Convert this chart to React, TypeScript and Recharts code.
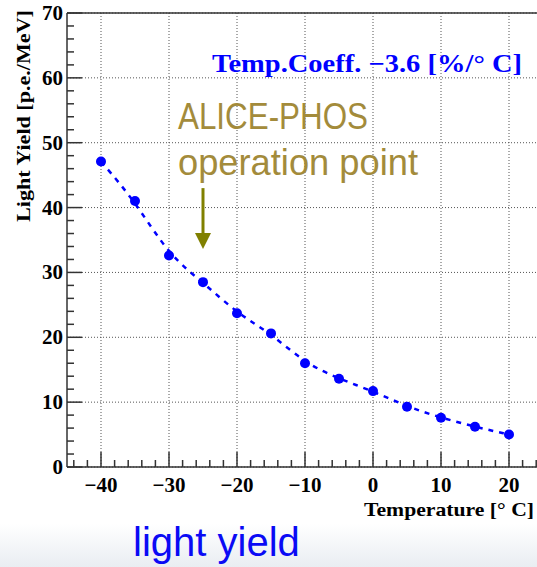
import {
  CartesianGrid,
  Line,
  LineChart,
  ReferenceDot,
  ReferenceLine,
  XAxis,
  YAxis,
} from "recharts";

const temperature = [-40, -35, -30, -25, -20, -15, -10, -5, 0, 5, 10, 15, 20];
const lightYield = [47.1, 41.0, 32.6, 28.5, 23.7, 20.6, 16.0, 13.6, 11.7, 9.3, 7.6, 6.2, 5.0];

const xTicks = [
  -44, -42, -40, -38, -36, -34, -32, -30, -28, -26, -24, -22, -20, -18, -16, -14, -12, -10,
  -8, -6, -4, -2, 0, 2, 4, 6, 8, 10, 12, 14, 16, 18, 20, 22, 24,
];
const xMajorTicks = [-40, -30, -20, -10, 0, 10, 20];
const yTicks = [
  0, 2, 4, 6, 8, 10, 12, 14, 16, 18, 20, 22, 24, 26, 28, 30, 32, 34, 36, 38, 40, 42, 44, 46,
  48, 50, 52, 54, 56, 58, 60, 62, 64, 66, 68, 70,
];
const yMajorTicks = [0, 10, 20, 30, 40, 50, 60, 70];

// operation point arrow (temperature, light yield)
const arrowX = -25;
const arrowTop = 43;
const arrowTip = 33.6;

const data = temperature.map((t, i) => ({ t, ly: lightYield[i] }));

const serif = "'Liberation Serif', 'DejaVu Serif', serif";
const sans = "'Liberation Sans', Arial, sans-serif";
const axisColor = "#333";

const fmt = (v: number) => (v < 0 ? `\u2212${-v}` : `${v}`);

function XTick({ x, y, payload }: any) {
  const v = payload.value;
  const major = xMajorTicks.includes(v);
  return (
    <g>
      <line x1={x} x2={x} y1={y} y2={y - (major ? 15 : 7)} stroke={axisColor} strokeWidth={1.5} />
      {major && (
        <text x={x} y={y + 25} textAnchor="middle" fontFamily={serif} fontWeight="bold" fontSize={21} fill="#000">
          {fmt(v)}
        </text>
      )}
    </g>
  );
}

function YTick({ x, y, payload }: any) {
  const v = payload.value;
  const major = yMajorTicks.includes(v);
  return (
    <g>
      <line x1={x} x2={x + (major ? 15 : 7)} y1={y} y2={y} stroke={axisColor} strokeWidth={1.5} />
      {major && (
        <text x={x - 4} y={y + 7} textAnchor="end" fontFamily={serif} fontWeight="bold" fontSize={21} fill="#000">
          {v}
        </text>
      )}
    </g>
  );
}

function ArrowHead({ cx, cy }: any) {
  return <polygon points={`${cx - 8},${cy - 16} ${cx + 8},${cy - 16} ${cx},${cy}`} fill="#808000" />;
}

export default function App() {
  return (
    <div style={{ position: "fixed", left: 0, top: 0, width: 537, height: 567, overflow: "hidden", background: "#fff" }}>
      <div
        style={{
          position: "absolute",
          left: 0,
          top: 524,
          width: 537,
          height: 43,
          background: "linear-gradient(to bottom, #ffffff, #e9edf2)",
        }}
      />
      <div style={{ position: "absolute", left: 0, top: 0 }}>
        <LineChart width={545} height={567} data={data} margin={{ top: 13, right: 2, bottom: 60, left: 0 }}>
          <CartesianGrid
            verticalValues={xMajorTicks}
            horizontalValues={yMajorTicks}
            stroke="#555"
            strokeDasharray="1 2"
          />
          <XAxis
            type="number"
            dataKey="t"
            domain={[-45, 25]}
            ticks={xTicks}
            interval={0}
            height={40}
            tickSize={0}
            tickMargin={0}
            tickLine={false}
            axisLine={{ stroke: axisColor, strokeWidth: 1.5 }}
            tick={<XTick />}
            allowDataOverflow
          />
          <YAxis
            type="number"
            domain={[0, 70]}
            ticks={yTicks}
            interval={0}
            width={67}
            tickSize={0}
            tickMargin={0}
            tickLine={false}
            axisLine={{ stroke: axisColor, strokeWidth: 1.5 }}
            tick={<YTick />}
            allowDataOverflow
          />
          <ReferenceLine y={70} stroke={axisColor} strokeWidth={1.5} />
          <ReferenceLine x={25} stroke={axisColor} strokeWidth={1.5} />
          <Line
            type="basis"
            dataKey="ly"
            stroke="#0000ff"
            strokeWidth={2.5}
            strokeDasharray="5 6"
            dot={{ r: 5, fill: "#0000ff", stroke: "none" }}
            isAnimationActive={false}
          />
          <ReferenceLine
            segment={[
              { x: arrowX, y: arrowTop },
              { x: arrowX, y: arrowTip + 2.4 },
            ]}
            stroke="#808000"
            strokeWidth={3}
          />
          <ReferenceDot x={arrowX} y={arrowTip} shape={<ArrowHead />} />
        </LineChart>
      </div>
      <svg width={537} height={567} style={{ position: "absolute", left: 0, top: 0, pointerEvents: "none" }}>
        <text
          x={30}
          y={116}
          transform="rotate(-90 30 116)"
          textAnchor="middle"
          fontFamily={serif}
          fontWeight="bold"
          fontSize={19}
          textLength={212}
          lengthAdjust="spacingAndGlyphs"
        >
          Light Yield [p.e./MeV]
        </text>
        <text
          x={364}
          y={516}
          fontFamily={serif}
          fontWeight="bold"
          fontSize={19}
          textLength={170}
          lengthAdjust="spacingAndGlyphs"
        >
          Temperature [° C]
        </text>
        <text
          x={212}
          y={72}
          fontFamily={serif}
          fontWeight="bold"
          fontSize={25}
          fill="#0000ff"
          textLength={310}
          lengthAdjust="spacingAndGlyphs"
        >
          Temp.Coeff. −3.6 [%/° C]
        </text>
        <text x={178} y={129} fontFamily={sans} fontSize={37} fill="#a38b3b" textLength={190} lengthAdjust="spacingAndGlyphs">
          ALICE-PHOS
        </text>
        <text x={178} y={175} fontFamily={sans} fontSize={37} fill="#a38b3b" textLength={240} lengthAdjust="spacingAndGlyphs">
          operation point
        </text>
        <text x={133} y={556} fontFamily={sans} fontSize={40} fill="#0a0af5">
          light yield
        </text>
      </svg>
    </div>
  );
}
